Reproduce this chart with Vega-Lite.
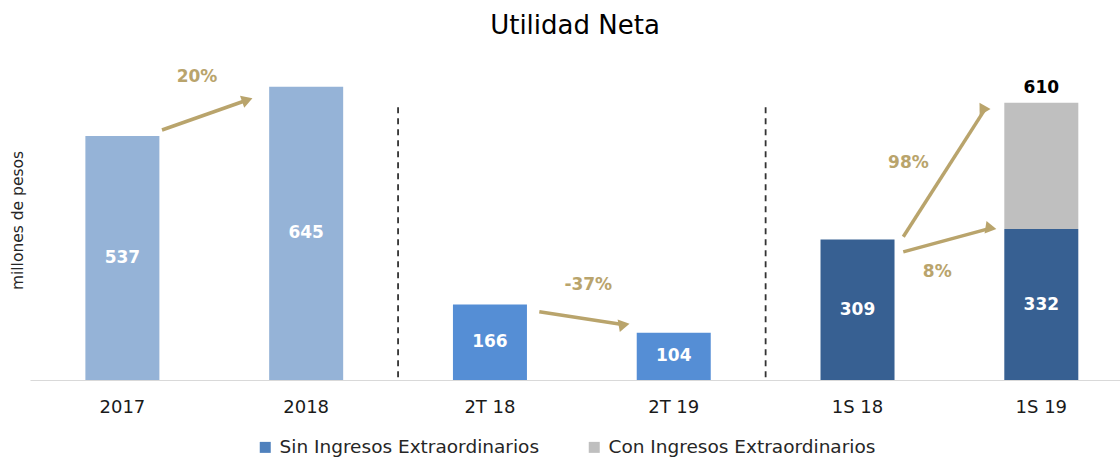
{
  "$schema": "https://vega.github.io/schema/vega-lite/v6.json",
  "width": 1090,
  "height": 320,
  "autosize": {"type": "none"},
  "padding": {"left": 30, "top": 60, "right": 0, "bottom": 78},
  "title": {
    "text": "Utilidad Neta",
    "font": "DejaVu Sans",
    "fontSize": 26,
    "fontWeight": "normal",
    "color": "#000000",
    "anchor": "middle",
    "baseline": "alphabetic",
    "offset": 0
  },
  "config": {
    "font": "DejaVu Sans",
    "view": {"stroke": null},
    "axisX": {
      "labelFontSize": 18,
      "labelColor": "#1a1a1a",
      "labelPadding": 18,
      "labelAngle": 0,
      "ticks": false,
      "domainColor": "#D9D9D9",
      "domainWidth": 1.2,
      "grid": false,
      "title": null
    },
    "axisY": {
      "labels": false,
      "ticks": false,
      "domain": false,
      "grid": false,
      "titleFontSize": 15.5,
      "titleFontWeight": "normal",
      "titleColor": "#262626",
      "titlePadding": 5
    }
  },
  "datasets": {
    "barras": [
      {"periodo": "2017", "grupo": "Anual", "serie": "Sin Ingresos Extraordinarios", "valor": 537},
      {"periodo": "2018", "grupo": "Anual", "serie": "Sin Ingresos Extraordinarios", "valor": 645},
      {"periodo": "2T 18", "grupo": "Trimestral", "serie": "Sin Ingresos Extraordinarios", "valor": 166},
      {"periodo": "2T 19", "grupo": "Trimestral", "serie": "Sin Ingresos Extraordinarios", "valor": 104},
      {"periodo": "1S 18", "grupo": "Semestral", "serie": "Sin Ingresos Extraordinarios", "valor": 309},
      {"periodo": "1S 19", "grupo": "Semestral", "serie": "Sin Ingresos Extraordinarios", "valor": 332},
      {"periodo": "1S 19", "grupo": "Semestral", "serie": "Con Ingresos Extraordinarios", "valor": 278}
    ],
    "flechas": [
      {"etiqueta": "20%", "x_ini": 0.2155, "y_ini": 550, "x_fin": 0.6796, "y_fin": 616, "x_etq": 0.406, "y_etq": 667},
      {"etiqueta": "-37%", "x_ini": 2.2685, "y_ini": 150, "x_fin": 2.730, "y_fin": 121.5, "x_etq": 2.535, "y_etq": 209},
      {"etiqueta": "98%", "x_ini": 4.249, "y_ini": 315, "x_fin": 4.694, "y_fin": 596, "x_etq": 4.277, "y_etq": 477},
      {"etiqueta": "8%", "x_ini": 4.249, "y_ini": 282, "x_fin": 4.726, "y_fin": 334, "x_etq": 4.434, "y_etq": 238}
    ],
    "separadores": [
      {"pos": 1.5, "desde": 6, "hasta": 605},
      {"pos": 3.5, "desde": 6, "hasta": 605}
    ]
  },
  "layer": [
    {
      "data": {"name": "barras"},
      "encoding": {
        "x": {
          "field": "periodo",
          "type": "nominal",
          "sort": null,
          "scale": {"type": "band", "paddingInner": 0.5973, "paddingOuter": 0.2641, "align": 0.5705, "round": false},
          "axis": {"title": null}
        }
      },
      "layer": [
        {
          "transform": [
            {"calculate": "datum.serie === 'Con Ingresos Extraordinarios' ? datum.serie : datum.grupo", "as": "clave"}
          ],
          "mark": {"type": "bar"},
          "encoding": {
            "y": {"field": "valor", "type": "quantitative", "stack": "zero", "scale": {"domain": [0, 704], "nice": false, "zero": true}, "title": "millones de pesos"},
            "color": {
              "field": "clave",
              "type": "nominal",
              "scale": {
                "domain": ["Sin Ingresos Extraordinarios", "Con Ingresos Extraordinarios", "Anual", "Trimestral", "Semestral"],
                "range": ["#4F81BD", "#BFBFBF", "#95B3D7", "#558ED5", "#376092"]
              },
              "legend": {
                "orient": "none",
                "legendX": 226,
                "legendY": 378,
                "direction": "horizontal",
                "values": ["Sin Ingresos Extraordinarios", "Con Ingresos Extraordinarios"],
                "title": null,
                "symbolType": "square",
                "symbolSize": 121,
                "symbolStrokeWidth": 0,
                "labelFontSize": 18.5,
                "labelColor": "#262626",
                "labelOffset": 5,
                "columnPadding": 45,
                "labelLimit": 400
              }
            },
            "order": {"field": "serie", "sort": "descending"}
          }
        },
        {
          "transform": [
            {"stack": "valor", "groupby": ["periodo"], "sort": [{"field": "serie", "order": "descending"}], "as": ["y0", "y1"]},
            {"filter": "datum.serie === 'Sin Ingresos Extraordinarios'"},
            {"calculate": "(datum.y0 + datum.y1) / 2", "as": "ymid"}
          ],
          "mark": {"type": "text", "color": "#FFFFFF", "fontWeight": "bold", "fontSize": 17, "baseline": "middle", "align": "center"},
          "encoding": {
            "y": {"field": "ymid", "type": "quantitative", "scale": {"domain": [0, 704], "nice": false, "zero": true}, "title": "millones de pesos"},
            "text": {"field": "valor", "type": "quantitative"}
          }
        },
        {
          "transform": [
            {"filter": "datum.periodo === '1S 19'"},
            {"aggregate": [{"op": "sum", "field": "valor", "as": "total"}], "groupby": ["periodo"]}
          ],
          "mark": {"type": "text", "color": "#000000", "fontWeight": "bold", "fontSize": 17, "baseline": "bottom", "align": "center", "dy": -6},
          "encoding": {
            "y": {"field": "total", "type": "quantitative", "scale": {"domain": [0, 704], "nice": false, "zero": true}, "title": "millones de pesos"},
            "text": {"field": "total", "type": "quantitative"}
          }
        }
      ]
    },
    {
      "layer": [
        {
          "data": {"name": "separadores"},
          "mark": {"type": "rule", "color": "#333333", "strokeWidth": 1.8, "strokeDash": [6, 5]},
          "encoding": {
            "x": {"field": "pos", "type": "quantitative", "scale": {"domain": [-0.5028, 5.4283], "nice": false, "zero": false}, "axis": null},
            "y": {"field": "desde", "type": "quantitative", "scale": {"domain": [0, 704], "nice": false, "zero": true}, "title": "millones de pesos"},
            "y2": {"field": "hasta"}
          }
        },
        {
          "data": {"name": "flechas"},
          "mark": {"type": "rule", "color": "#B9A46C", "strokeWidth": 3.5, "strokeCap": "butt"},
          "encoding": {
            "x": {"field": "x_ini", "type": "quantitative", "scale": {"domain": [-0.5028, 5.4283], "nice": false, "zero": false}, "axis": null},
            "x2": {"field": "x_fin"},
            "y": {"field": "y_ini", "type": "quantitative", "scale": {"domain": [0, 704], "nice": false, "zero": true}, "title": "millones de pesos"},
            "y2": {"field": "y_fin"}
          }
        },
        {
          "data": {"name": "flechas"},
          "mark": {"type": "point", "shape": "triangle-up", "filled": true, "color": "#B9A46C", "size": 160, "opacity": 1, "strokeWidth": 0},
          "encoding": {
            "x": {"field": "x_fin", "type": "quantitative", "scale": {"domain": [-0.5028, 5.4283], "nice": false, "zero": false}, "axis": null},
            "y": {"field": "y_fin", "type": "quantitative", "scale": {"domain": [0, 704], "nice": false, "zero": true}, "title": "millones de pesos"},
            "angle": {
              "field": "etiqueta",
              "type": "ordinal",
              "scale": {"domain": ["20%", "-37%", "98%", "8%"], "range": [70.6, 98.8, 32.6, 75]},
              "legend": null
            }
          }
        },
        {
          "data": {"name": "flechas"},
          "mark": {"type": "text", "color": "#B9A46C", "fontWeight": "bold", "fontSize": 17, "baseline": "middle", "align": "center"},
          "encoding": {
            "x": {"field": "x_etq", "type": "quantitative", "scale": {"domain": [-0.5028, 5.4283], "nice": false, "zero": false}, "axis": null},
            "y": {"field": "y_etq", "type": "quantitative", "scale": {"domain": [0, 704], "nice": false, "zero": true}, "title": "millones de pesos"},
            "text": {"field": "etiqueta", "type": "nominal"}
          }
        }
      ]
    }
  ],
  "resolve": {"scale": {"x": "independent"}}
}
